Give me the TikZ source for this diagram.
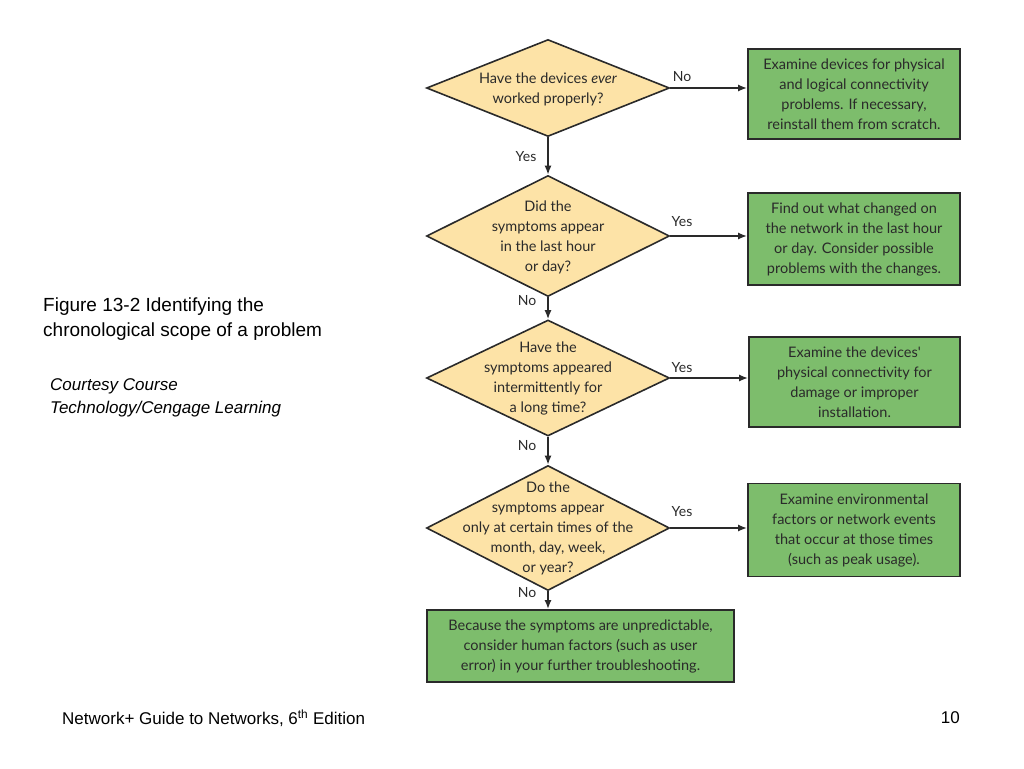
\documentclass[tikz,border=0pt]{standalone}
\usepackage{fontspec}
\setmainfont{Liberation Sans}
\newfontfamily\diafont{Lato}
\usetikzlibrary{shapes.geometric,arrows.meta}
\definecolor{dfill}{HTML}{FDE3A7}
\definecolor{gfill}{HTML}{7DBD6C}
\definecolor{lcol}{HTML}{2A2A2A}
\begin{document}
\begin{tikzpicture}[x=1pt,y=-1pt,
  dia/.style={diamond,draw=lcol,line width=1.6pt,fill=dfill,inner sep=0pt},
  dtext/.style={align=center,font=\diafont\fontsize{14.5}{20}\selectfont,text=lcol},
  gbox/.style={draw=lcol,line width=1.8pt,fill=gfill,align=center,font=\diafont\fontsize{14.5}{20}\selectfont,text=lcol,inner sep=0pt},
  arr/.style={draw=lcol,line width=1.6pt,-{Latex[length=9pt,width=7pt]}},
  lab/.style={font=\diafont\fontsize{14}{16}\selectfont,text=lcol}]
\useasboundingbox (0,0) rectangle (1024,768);
% diamonds
\node[dia,minimum width=243,minimum height=97] (d1) at (548,88) {};
\node[dtext] (t1) at (548,89) {Have the devices \textit{ever}\\worked properly?};
\node[dia,minimum width=243,minimum height=121] (d2) at (548,236) {};
\node[dtext] (t2) at (548,237) {Did the\\symptoms appear\\in the last hour\\or day?};
\node[dia,minimum width=243,minimum height=116] (d3) at (548,378) {};
\node[dtext] (t3) at (548,378) {Have the\\symptoms appeared\\intermittently for\\a long time?};
\node[dia,minimum width=243,minimum height=125] (d4) at (548,528) {};
\node[dtext] (t4) at (548,528) {Do the\\symptoms appear\\only at certain times of the\\month, day, week,\\or year?};
% boxes
\node[gbox,minimum width=212,minimum height=90] (b1) at (854,94) {Examine devices for physical\\and logical connectivity\\problems. If necessary,\\reinstall them from scratch.};
\node[gbox,minimum width=212,minimum height=92] (b2) at (854,239) {Find out what changed on\\the network in the last hour\\or day. Consider possible\\problems with the changes.};
\node[gbox,minimum width=211,minimum height=90] (b3) at (854.5,382) {Examine the devices'\\physical connectivity for\\damage or improper\\installation.};
\node[gbox,minimum width=212,minimum height=93] (b4) at (854,530) {Examine environmental\\factors or network events\\that occur at those times\\(such as peak usage).};
\node[gbox,minimum width=307,minimum height=72] (b5) at (580.5,646) {Because the symptoms are unpredictable,\\consider human factors (such as user\\error) in your further troubleshooting.};
% arrows
\draw[arr] (d1.east) -- (b1.west |- d1.east);
\draw[arr] (d2.east) -- (b2.west |- d2.east);
\draw[arr] (d3.east) -- (b3.west |- d3.east);
\draw[arr] (d4.east) -- (b4.west |- d4.east);
\draw[arr] (d1.south) -- (d2.north);
\draw[arr] (d2.south) -- (d3.north);
\draw[arr] (d3.south) -- (d4.north);
\draw[arr] (d4.south) -- (d4.south |- b5.north);
% labels
\node[lab] (l1) at (682,77) {No};
\node[lab] (l2) at (682,222) {Yes};
\node[lab] (l3) at (682,368) {Yes};
\node[lab] (l4) at (682,512) {Yes};
\node[lab] (l5) at (526,157) {Yes};
\node[lab] (l6) at (527,301) {No};
\node[lab] (l7) at (527,446) {No};
\node[lab] (l8) at (527,593) {No};
% caption
\node[anchor=north west,align=left,font=\fontsize{19}{25}\selectfont,inner sep=0pt] (cap) at (43,298) {Figure 13-2 Identifying the\\chronological scope of a problem};
\node[anchor=north west,align=left,font=\itshape\fontsize{17}{23}\selectfont,inner sep=0pt] (cour) at (50,378) {Courtesy Course\\Technology/Cengage Learning};
\node[anchor=west,font=\fontsize{17}{20}\selectfont,inner sep=0pt] (foot) at (62,718) {Network+ Guide to Networks, 6\textsuperscript{th} Edition};
\node[anchor=east,font=\fontsize{17}{20}\selectfont,inner sep=0pt] (pg) at (960,718) {10};
\end{tikzpicture}
\end{document}
